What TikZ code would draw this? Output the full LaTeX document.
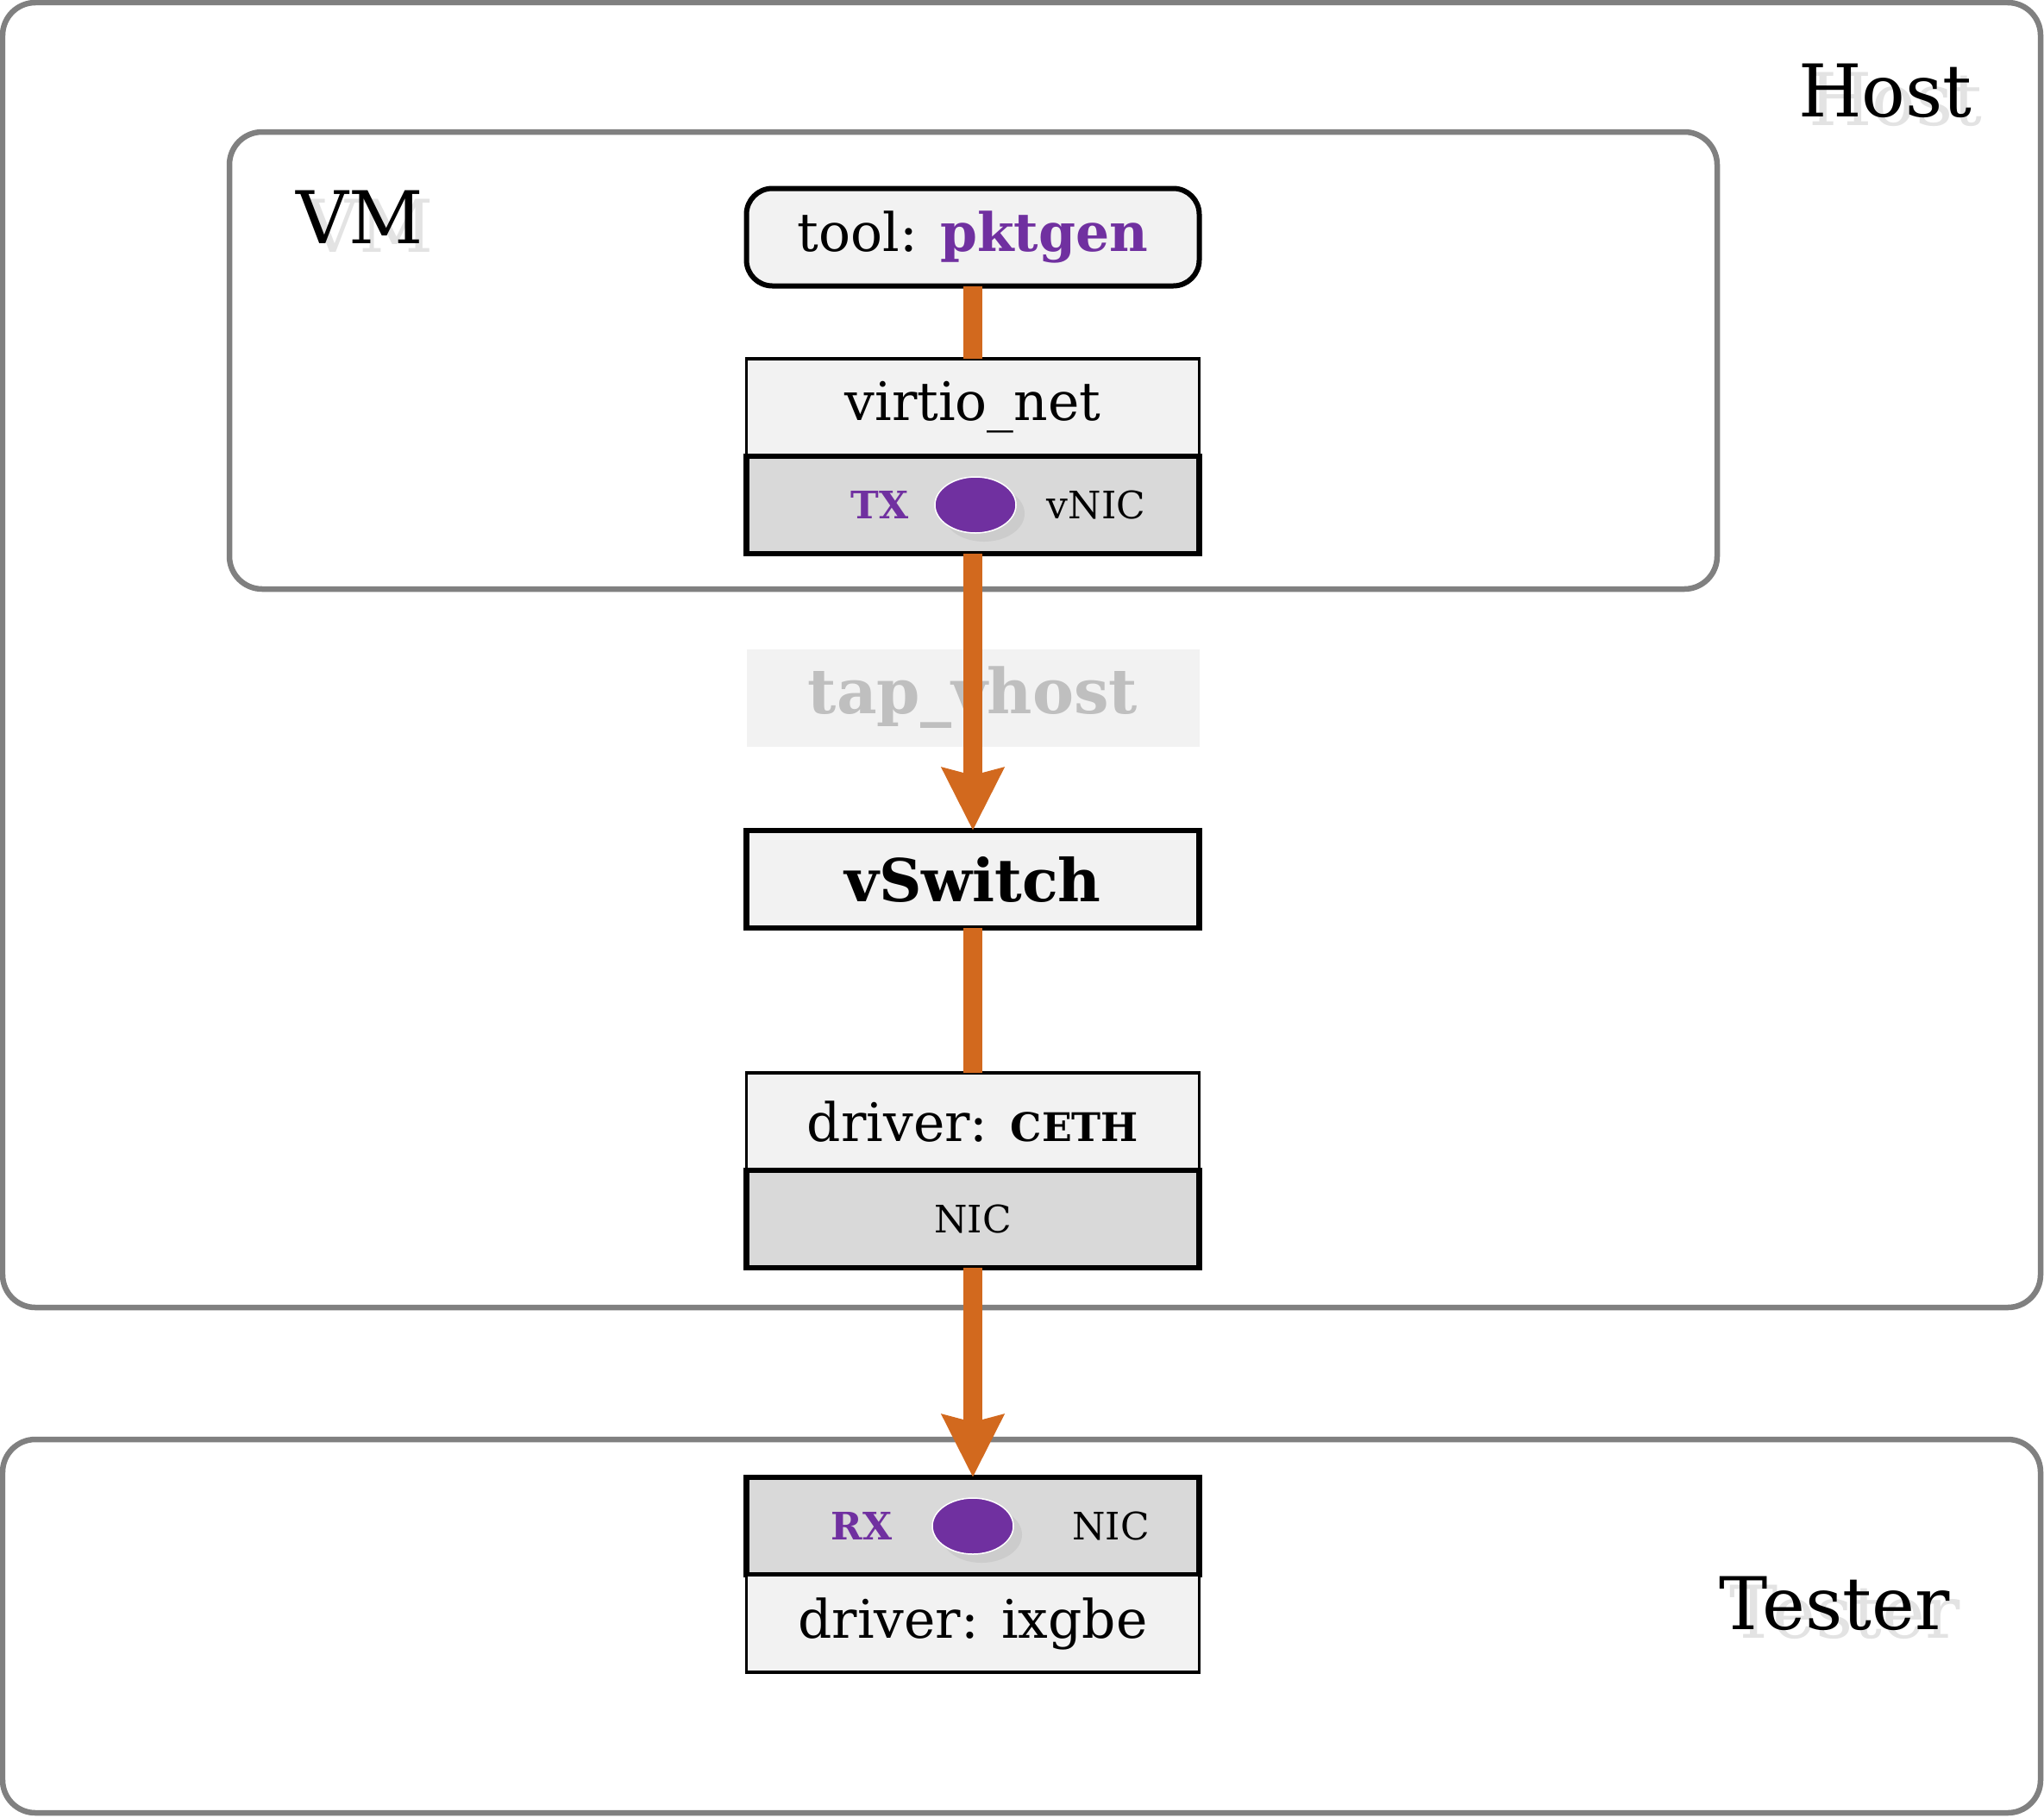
\documentclass[tikz,border=0pt]{standalone}
\usepackage{fontspec}
\setmainfont{DejaVu Serif}
\usetikzlibrary{shapes.geometric,arrows.meta,positioning}
\definecolor{flow}{HTML}{D2691E}
\definecolor{tagpurple}{HTML}{7030A0}
\definecolor{frame}{HTML}{808080}
\definecolor{boxfill}{HTML}{F2F2F2}
\definecolor{nicfill}{HTML}{D9D9D9}
\newcommand{\boxfont}{\fontsize{17.5}{20}\selectfont}
\newcommand{\tagfont}{\fontsize{12.5}{15}\selectfont}
\newcommand{\titlefont}{\fontsize{24}{28}\selectfont}

\begin{document}
\begin{tikzpicture}
      \tikzstyle{container} = [rectangle, rounded corners=0.38cm, draw=frame, line width=0.065cm, inner sep=0pt, outer sep=0pt]
      \tikzstyle{layer} = [rectangle, minimum width=5.25cm, minimum height=1.13cm, inner sep=0pt, outer sep=0pt, draw=black, line width=0.035cm, fill=boxfill, font=\boxfont]
      \tikzstyle{nicbox} = [layer, line width=0.065cm, fill=nicfill, font=\tagfont]
      \tikzstyle{machinelabel} = [font=\titlefont, anchor=base]
      \tikzstyle{labelshadow} = [machinelabel, text=black!11]
      \tikzstyle{portdot} = [ellipse, minimum width=0.94cm, minimum height=0.65cm, inner sep=0pt, fill=tagpurple, draw=white, line width=0.015cm]
      \tikzstyle{portshadow} = [portdot, fill=black!20, draw=none]
      \tikzstyle{porttag} = [font=\tagfont\bfseries, text=tagpurple]
      \tikzstyle{flowline} = [line width=0.22cm, draw=flow]
      \tikzstyle{flowarrow} = [flowline, -{Stealth[length=0.72cm, width=0.7cm, inset=0.08cm]}]

      \useasboundingbox (0,0) rectangle (23.70,-21.07);

      % machines
      \node (host) [container, minimum width=23.63cm, minimum height=15.13cm] at (11.845, -7.595) {};
      \node (vm) [container, minimum width=17.25cm, minimum height=5.30cm] at (11.285, -4.18) {};
      \node (tester) [container, minimum width=23.63cm, minimum height=4.33cm] at (11.845, -18.855) {};

      \node (host-shadow) [labelshadow] at (21.98, -1.45) {Host};
      \node (host-label) [machinelabel] at (21.86, -1.35) {Host};
      \node (vm-shadow) [labelshadow] at (4.29, -2.92) {VM};
      \node (vm-label) [machinelabel] at (4.17, -2.82) {VM};
      \node (tester-shadow) [labelshadow] at (21.39, -18.99) {Tester};
      \node (tester-label) [machinelabel] at (21.27, -18.89) {Tester};

      % guest stack
      \path[] node[layer, rounded corners=0.3cm, line width=0.06cm] (tool-box) at (11.28, -2.75) {tool: \textcolor{tagpurple}{\bfseries pktgen}};
      \path[] node[layer] (virtio-net) at (11.28, -4.725) {virtio\_net};
      \path[] node[nicbox, below=0cm of virtio-net] (v-nic) {};
      \node (tx-shadow) [portshadow] at ([xshift=0.13cm, yshift=-0.1cm]v-nic.center) {};
      \node (tx-port) [portdot] at ([xshift=0.03cm]v-nic.center) {};
      \node (tx-tag) [porttag] at ([xshift=-1.08cm]v-nic.center) {TX};
      \node (vnic-tag) [font=\tagfont] at ([xshift=1.43cm]v-nic.center) {vNIC};

      % host stack
      \path[] node[layer, draw=none, text=black!25, font=\fontsize{20.5}{23}\selectfont\bfseries] (tap-vhost) at (11.28, -8.09) {tap\_vhost};
      \path[] node[nicbox, fill=boxfill, font=\fontsize{19.5}{22}\selectfont\bfseries] (v-switch) at (11.28, -10.195) {vSwitch};
      \path[] node[layer] (driver-ceth) at (11.28, -13.005) {driver: {\fontsize{13}{15}\selectfont\bfseries CETH}};
      \path[] node[nicbox, below=0cm of driver-ceth] (host-nic) {NIC};

      % tester stack
      \path[] node[nicbox] (rx-nic) at (11.28, -17.695) {};
      \path[] node[layer, below=0cm of rx-nic] (driver-ixgbe) {driver: ixgbe};
      \node (rx-shadow) [portshadow] at ([xshift=0.1cm, yshift=-0.1cm]rx-nic.center) {};
      \node (rx-port) [portdot] at (rx-nic.center) {};
      \node (rx-tag) [porttag] at ([xshift=-1.29cm]rx-nic.center) {RX};
      \node (rxnic-tag) [font=\tagfont] at ([xshift=1.6cm]rx-nic.center) {NIC};

      % packet path
      \draw [flowline] (tool-box) -- (virtio-net);
      \draw [flowarrow] (v-nic) -- (v-switch);
      \draw [flowline] (v-switch) -- (driver-ceth);
      \draw [flowarrow] (host-nic) -- (rx-nic);
\end{tikzpicture}
\end{document}
